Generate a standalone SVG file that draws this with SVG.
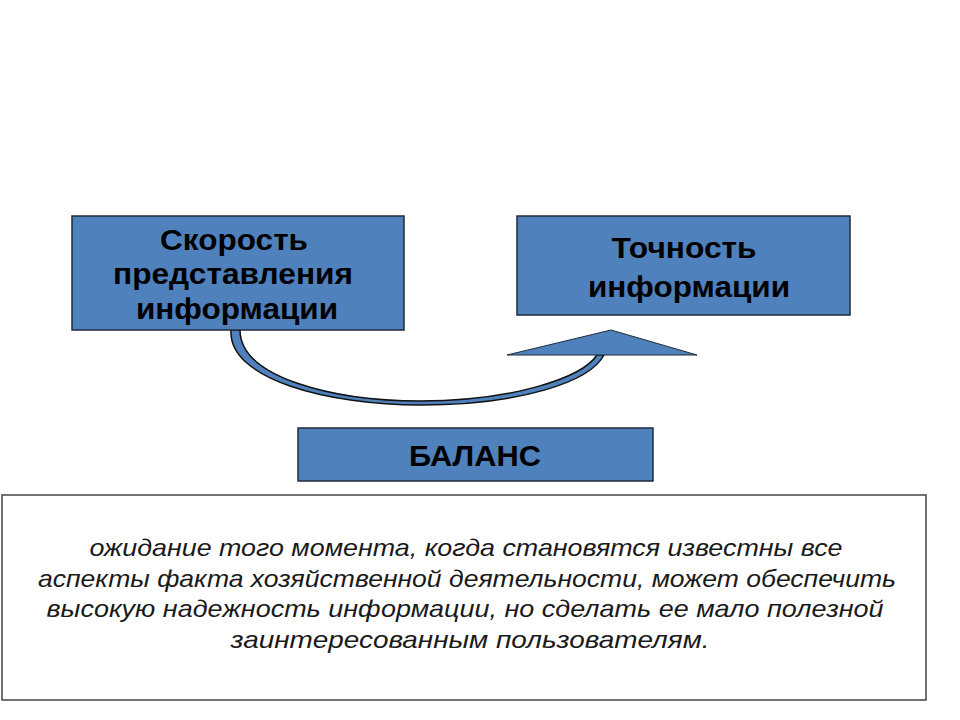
<svg xmlns="http://www.w3.org/2000/svg" width="960" height="720" viewBox="0 0 960 720">
<style>
.box{fill:#4F81BD;stroke:#1F2B3C;stroke-width:1.5}
.t{font-family:"Liberation Sans",Arial,sans-serif;font-weight:bold;font-size:29px;fill:#000;text-anchor:middle}
.d{font-family:"Liberation Sans",Arial,sans-serif;font-style:italic;font-size:24px;fill:#1a1a1a;text-anchor:middle}
</style>
<rect width="960" height="720" fill="#fff"/>
<g id="connectors">
<path d="M231,330 C228,380 330,405 420,405 C520,405 590,382 604,355 L597,355 C582,378 512,401 420,401 C335,401 240,378 240,330 Z" fill="#4F81BD" stroke="#111" stroke-width="1.5"/>
<polygon points="507,355 611,330 697,355" fill="#4F81BD" stroke="#1F2B3C" stroke-width="1"/>
</g>
<g id="node-speed">
<rect class="box" x="72" y="216" width="332" height="114"/>
<text class="t" x="234" y="250" textLength="148" lengthAdjust="spacingAndGlyphs">Скорость</text>
<text class="t" x="233" y="284" textLength="240" lengthAdjust="spacingAndGlyphs">представления</text>
<text class="t" x="237" y="319" textLength="202" lengthAdjust="spacingAndGlyphs">информации</text>
</g>
<g id="node-accuracy">
<rect class="box" x="517" y="216" width="333" height="99"/>
<text class="t" x="684" y="258" textLength="145" lengthAdjust="spacingAndGlyphs">Точность</text>
<text class="t" x="689" y="297" textLength="202" lengthAdjust="spacingAndGlyphs">информации</text>
</g>
<g id="node-balance">
<rect class="box" x="298" y="428" width="355" height="53"/>
<text class="t" x="475" y="466" textLength="132" lengthAdjust="spacingAndGlyphs">БАЛАНС</text>
</g>
<g id="note">
<rect x="2" y="495" width="924" height="205" fill="#fff" stroke="#444" stroke-width="1.5"/>
<text class="d" x="466" y="556" textLength="753" lengthAdjust="spacingAndGlyphs">ожидание того момента, когда становятся известны все</text>
<text class="d" x="467" y="587" textLength="858" lengthAdjust="spacingAndGlyphs">аспекты факта хозяйственной деятельности, может обеспечить</text>
<text class="d" x="465" y="617" textLength="837" lengthAdjust="spacingAndGlyphs">высокую надежность информации, но сделать ее мало полезной</text>
<text class="d" x="470" y="648" textLength="479" lengthAdjust="spacingAndGlyphs">заинтересованным пользователям.</text>
</g>
</svg>
